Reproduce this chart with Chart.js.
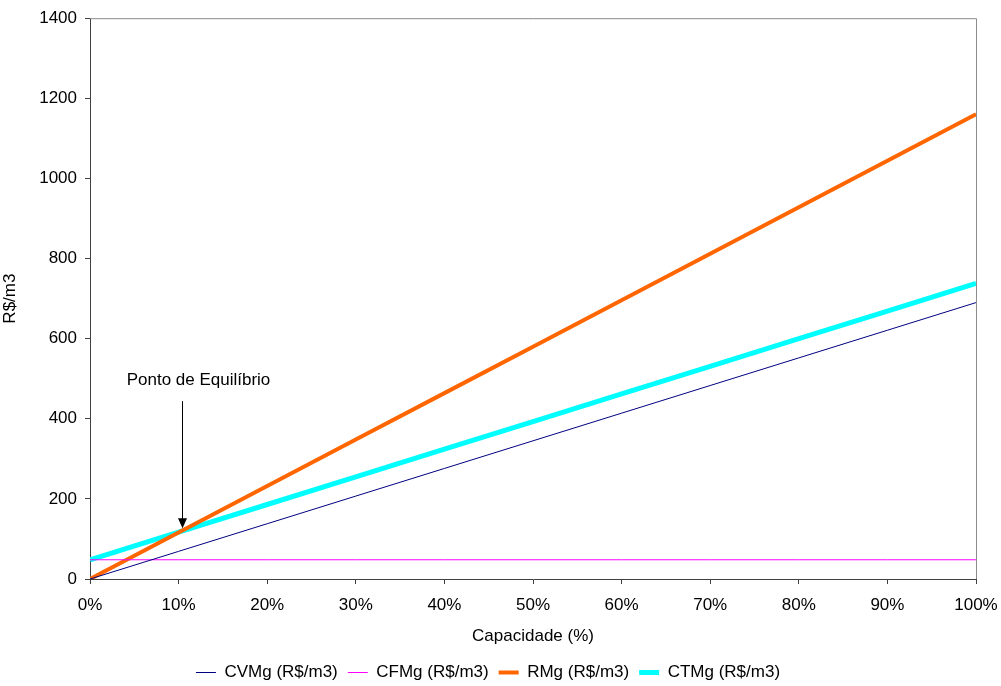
<!DOCTYPE html>
<html>
<head>
<meta charset="utf-8">
<script src="https://cdn.jsdelivr.net/npm/chart.js@4/dist/chart.umd.min.js"></script>
<style>
  html, body { margin: 0; padding: 0; background: #fff; }
  #wrap { width: 1001px; height: 686px; }
</style>
</head>
<body>
<div id="wrap"><canvas id="c" width="1001" height="686"></canvas></div>
<script>
// Capacity (%) on the x axis
const capacidade = [0, 10, 20, 30, 40, 50, 60, 70, 80, 90, 100];
// Marginal variable cost
const cvmg = [0, 69, 138, 207, 276, 345, 414, 483, 552, 621, 690];
// Marginal fixed cost
const cfmg = [48, 48, 48, 48, 48, 48, 48, 48, 48, 48, 48];
// Marginal revenue
const rmg = [0, 116, 232, 348, 464, 580, 696, 812, 928, 1044, 1160];
// Marginal total cost
const ctmg = [48, 117, 186, 255, 324, 393, 462, 531, 600, 669, 738];

const yTicks = [0, 200, 400, 600, 800, 1000, 1200, 1400];
const xTicks = [0, 10, 20, 30, 40, 50, 60, 70, 80, 90, 100];

// Break-even note: label and arrow, in data units
const notaTexto = 'Ponto de Equilíbrio';
const notaX = 10.4;
const notaTextoY = 497;
const notaSetaInicio = 444;
const notaSetaFim = 127;

const FONT = 'Liberation Sans, Arial, sans-serif';
const FS = 17;

function pts(ys) { return capacidade.map((x, i) => ({ x: x, y: ys[i] })); }

// Gray frame on the top and right of the plot, plus the break-even note
const extras = {
  id: 'extras',
  afterDatasetsDraw(chart) {
    const { ctx, chartArea: a, scales: { x, y } } = chart;
    ctx.save();
    ctx.strokeStyle = '#8c8c8c';
    ctx.lineWidth = 1;
    ctx.beginPath();
    ctx.moveTo(a.left, a.top + 0.5);
    ctx.lineTo(a.right + 0.5, a.top + 0.5);
    ctx.lineTo(a.right + 0.5, a.bottom);
    ctx.stroke();

    const px = Math.round(x.getPixelForValue(notaX)) + 0.5;
    ctx.fillStyle = '#000';
    ctx.font = FS + 'px ' + FONT;
    ctx.textAlign = 'center';
    ctx.textBaseline = 'middle';
    ctx.fillText(notaTexto, px + 16, y.getPixelForValue(notaTextoY));

    const y0 = y.getPixelForValue(notaSetaInicio);
    const y1 = y.getPixelForValue(notaSetaFim);
    ctx.strokeStyle = '#000';
    ctx.lineWidth = 1;
    ctx.beginPath();
    ctx.moveTo(px, y0);
    ctx.lineTo(px, y1 - 8);
    ctx.stroke();
    ctx.beginPath();
    ctx.moveTo(px - 4.5, y1 - 10);
    ctx.lineTo(px + 4.5, y1 - 10);
    ctx.lineTo(px, y1);
    ctx.closePath();
    ctx.fill();
    ctx.restore();
  }
};

new Chart(document.getElementById('c'), {
  type: 'line',
  data: {
    datasets: [
      { label: 'CVMg (R$/m3)', data: pts(cvmg), borderColor: '#000080', backgroundColor: '#000080', borderWidth: 1 },
      { label: 'CFMg (R$/m3)', data: pts(cfmg), borderColor: '#ff00ff', backgroundColor: '#ff00ff', borderWidth: 1 },
      { label: 'RMg (R$/m3)', data: pts(rmg), borderColor: '#ff6600', backgroundColor: '#ff6600', borderWidth: 4 },
      { label: 'CTMg (R$/m3)', data: pts(ctmg), borderColor: '#00ffff', backgroundColor: '#00ffff', borderWidth: 5 }
    ]
  },
  options: {
    responsive: false,
    animation: false,
    devicePixelRatio: 1,
    elements: { point: { radius: 0 }, line: { tension: 0 } },
    layout: { padding: { top: 17, right: 25, left: 0, bottom: -5 } },
    plugins: {
      tooltip: { enabled: false },
      legend: {
        position: 'bottom',
        labels: {
          color: '#000',
          font: { family: FONT, size: FS },
          usePointStyle: true,
          pointStyle: 'line',
          pointStyleWidth: 20,
          padding: 10
        }
      }
    },
    scales: {
      x: {
        type: 'linear',
        min: 0, max: 100,
        afterBuildTicks(s) { s.ticks = xTicks.map(v => ({ value: v })); },
        afterFit(s) { s.height = 75; s.paddingLeft = 0; s.paddingRight = 0; },
        ticks: {
          color: '#000',
          font: { family: FONT, size: FS },
          padding: 11,
          maxRotation: 0,
          callback: v => v + '%'
        },
        grid: { drawOnChartArea: false, drawTicks: true, tickLength: 5, color: '#404040' },
        border: { color: '#404040', width: 1 },
        title: { display: true, text: 'Capacidade (%)', color: '#000', font: { family: FONT, size: FS }, padding: { top: 2, bottom: 7 } }
      },
      y: {
        min: 0, max: 1400,
        afterBuildTicks(s) { s.ticks = yTicks.map(v => ({ value: v })); },
        afterFit(s) { s.width = 90; },
        ticks: { color: '#000', font: { family: FONT, size: FS }, padding: 8, callback: v => String(v) },
        grid: { drawOnChartArea: false, drawTicks: true, tickLength: 5, color: '#404040' },
        border: { color: '#404040', width: 1 },
        title: { display: true, text: 'R$/m3', color: '#000', font: { family: FONT, size: FS }, padding: { top: 0, bottom: 0 } }
      }
    }
  },
  plugins: [extras]
});
</script>
</body>
</html>
